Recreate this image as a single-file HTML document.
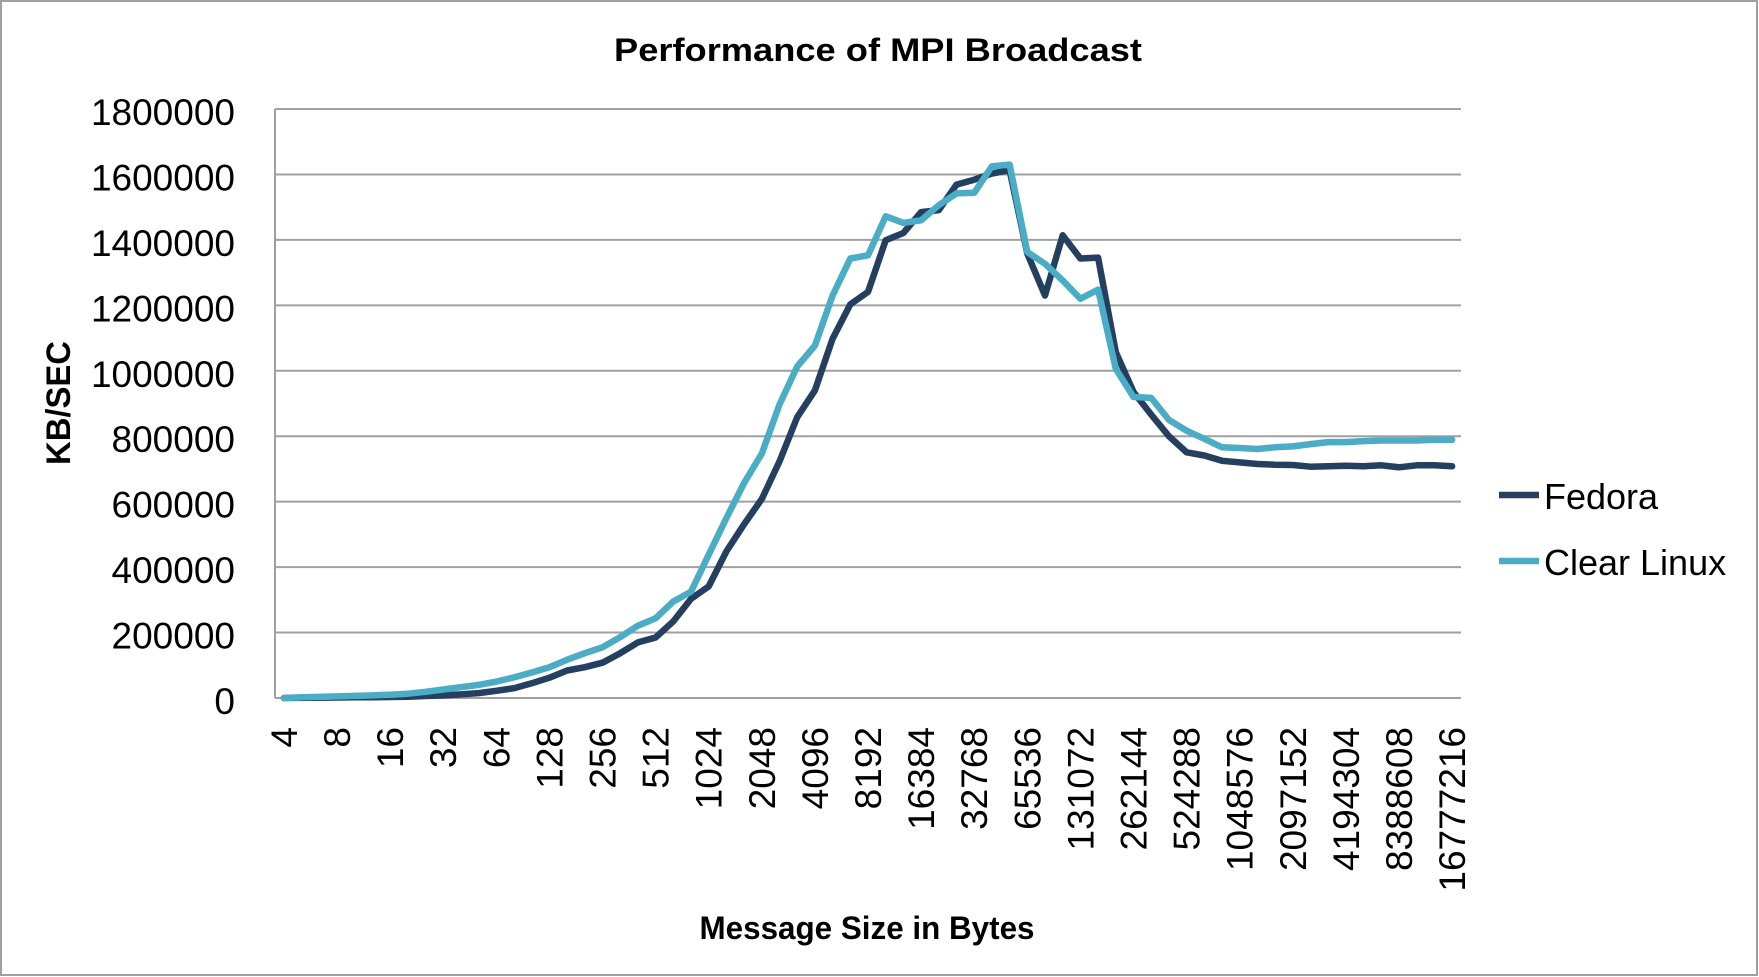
<!DOCTYPE html>
<html><head><meta charset="utf-8"><style>
html,body{margin:0;padding:0;background:#fff;}
svg{display:block;font-family:"Liberation Sans",sans-serif;}
</style></head><body>
<svg id="chart" width="1759" height="977" viewBox="0 0 1759 977" xmlns="http://www.w3.org/2000/svg">
<rect x="1" y="1" width="1756" height="974" fill="#fff" stroke="#a0a0a0" stroke-width="2"/>
<text x="878" y="61" text-anchor="middle" font-weight="bold" font-size="32" textLength="528" lengthAdjust="spacingAndGlyphs">Performance of MPI Broadcast</text>
<g id="grid"></g>
<g id="yticks"></g>
<g id="xticks"></g>
<g id="series"></g>
<text transform="translate(70,403) rotate(-90)" text-anchor="middle" font-weight="bold" font-size="34" textLength="124" lengthAdjust="spacingAndGlyphs">KB/SEC</text>
<text x="867" y="939" text-anchor="middle" font-weight="bold" font-size="32" textLength="335" lengthAdjust="spacingAndGlyphs">Message Size in Bytes</text>
<g>
<g>
<line x1="1499" y1="495" x2="1539" y2="495" stroke="#243f60" stroke-width="6.5"/>
<text x="1544" y="509" font-size="36">Fedora</text>
</g>
<g>
<line x1="1499" y1="561" x2="1539" y2="561" stroke="#4bacc6" stroke-width="6.5"/>
<text x="1544" y="575" font-size="36">Clear Linux</text>
</g>
</g>
</svg>
<script>
const yTicks = [0,200000,400000,600000,800000,1000000,1200000,1400000,1600000,1800000];
const categories = [];
for (let k = 0; k < 67; k++) categories.push(Math.round(Math.pow(2, 2 + k/3)));
const xLabels = ["4","8","16","32","64","128","256","512","1024","2048","4096","8192","16384","32768","65536","131072","262144","524288","1048576","2097152","4194304","8388608","16777216"];
const fedora = [0,500,1000,1500,2000,2500,3000,4000,6000,8000,11000,15000,22000,30000,45000,62000,84000,94000,108000,137000,170000,185000,234000,303000,341000,448000,531000,608000,723000,858000,940000,1098000,1203000,1241000,1399000,1421000,1485000,1491000,1569000,1584000,1603000,1613000,1358000,1230000,1414000,1343000,1346000,1057000,935000,866000,800000,751000,741000,725000,720000,715000,713000,712000,707000,708000,710000,708000,711000,705000,711000,711000,708000];
const clearLinux = [0,2000,3500,5000,6500,8000,10000,13000,19000,26000,33000,40000,50000,63000,78000,94000,117000,137000,155000,186000,221000,244000,295000,325000,438000,550000,657000,747000,897000,1013000,1077000,1230000,1343000,1353000,1472000,1452000,1460000,1506000,1542000,1544000,1625000,1630000,1363000,1327000,1276000,1220000,1248000,1006000,920000,917000,850000,817000,792000,766000,764000,761000,766000,769000,776000,782000,782000,785000,787000,787000,787000,789000,789000];

const NS = "http://www.w3.org/2000/svg";
const L = 275, R = 1461, T = 109, B = 698, YMAX = 1800000;
const xs = i => L + (i + 0.5) * (R - L) / categories.length;
const ys = v => B - v / YMAX * (B - T);
function mk(tag, attrs, parent){ const e = document.createElementNS(NS, tag); for (const k in attrs) e.setAttribute(k, attrs[k]); parent.appendChild(e); return e; }

const grid = document.getElementById('grid');
const yt = document.getElementById('yticks');
yTicks.forEach(v => {
  const g = mk('line', {x1:L, x2:R, y1:ys(v), y2:ys(v), stroke:'#a0a0a0', 'stroke-width':2}, grid);
  
  
  const t = mk('text', {x:235, y:ys(v)+16, 'text-anchor':'end', 'font-size':37}, yt);
  t.textContent = String(v);
  
  
});
const ax = mk('line', {x1:L, x2:L, y1:T, y2:B, stroke:'#a0a0a0', 'stroke-width':2}, grid);



const xt = document.getElementById('xticks');
xLabels.forEach((lab, j) => {
  const x = xs(j*3);
  const t = mk('text', {transform:`translate(${x+13},727) rotate(-90)`, 'text-anchor':'end', 'font-size':37}, xt);
  t.textContent = lab;
  
  
});

const ser = document.getElementById('series');
[[fedora,'#243f60','fedora-line'],[clearLinux,'#4bacc6','clear-linux-line']].forEach(([data,col,name]) => {
  const pts = data.map((v,i) => xs(i).toFixed(1)+','+ys(v).toFixed(1)).join(' ');
  const p = mk('polyline', {points:pts, fill:'none', stroke:col, 'stroke-width':6.5, 'stroke-linejoin':'round', 'stroke-linecap':'round'}, ser);
  
  
});
</script>
</body></html>
